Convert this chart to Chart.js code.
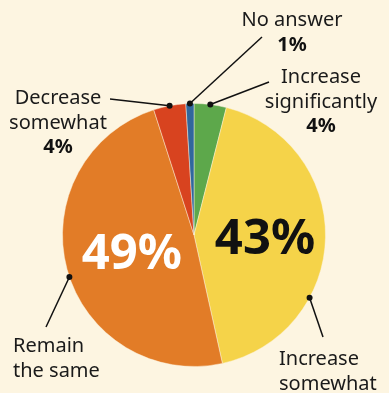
<!DOCTYPE html>
<html>
<head>
<meta charset="utf-8">
<script src="https://cdn.jsdelivr.net/npm/chart.js@4"></script>
<style>
  html, body { margin: 0; padding: 0; background: #fdf5e1; }
  #wrap { width: 389px; height: 393px; position: relative; }
</style>
</head>
<body>
<div id="wrap"><canvas id="chart" width="389" height="393"></canvas></div>
<script>
// données du graphique (sens horaire depuis midi)
const categories = ['Increase significantly', 'Increase somewhat', 'Remain the same', 'Decrease somewhat', 'No answer'];
const shares = [4, 43, 49, 4, 1];
const sliceColors = ['#5da84b', '#f5d349', '#e27c27', '#d8431f', '#30679d'];

// mise en page des étiquettes (lignes de texte, position, point sur l'arc)
const calloutLines = [
  ['Increase', 'significantly'],
  ['Increase', 'somewhat'],
  ['Remain', 'the same'],
  ['Decrease', 'somewhat'],
  ['No answer']
];
const callouts = [
  { x: 321, y: 83, align: 'center', showPct: true, t: 0.5, end: [269, 82] },
  { x: 279, y: 365, align: 'left', showPct: false, t: 0.68, end: [323, 337] },
  { x: 13, y: 352, align: 'left', showPct: false, t: 0.48, end: [46, 327] },
  { x: 58, y: 104, align: 'center', showPct: true, t: 0.5, end: [110, 99] },
  { x: 292, y: 26, align: 'center', showPct: true, t: 0.5, end: [262, 37] }
];
// gros pourcentages dans les parts
const bigLabels = [
  null,
  { color: '#111111', r: 0.54 },
  { color: '#ffffff', r: 0.49 },
  null,
  null
];

const FONT = '"Noto Sans", "Open Sans", sans-serif';

const labelPlugin = {
  id: 'labelPlugin',
  afterDatasetsDraw(chart) {
    const ctx = chart.ctx;
    const meta = chart.getDatasetMeta(0);
    ctx.save();
    meta.data.forEach((arc, i) => {
      const p = arc.getProps(['x', 'y', 'startAngle', 'endAngle', 'outerRadius']);
      const c = callouts[i];
      // ligne de rappel + point
      const a = p.startAngle + c.t * (p.endAngle - p.startAngle);
      const dx = p.x + Math.cos(a) * p.outerRadius;
      const dy = p.y + Math.sin(a) * p.outerRadius;
      ctx.strokeStyle = '#111';
      ctx.lineWidth = 1.5;
      ctx.beginPath();
      ctx.moveTo(dx, dy);
      ctx.lineTo(c.end[0], c.end[1]);
      ctx.stroke();
      ctx.fillStyle = '#111';
      ctx.beginPath();
      ctx.arc(dx, dy, 3, 0, Math.PI * 2);
      ctx.fill();

      // texte
      ctx.textAlign = c.align;
      ctx.textBaseline = 'alphabetic';
      ctx.fillStyle = '#1a1a1a';
      ctx.font = '20px ' + FONT;
      const lines = calloutLines[i];
      lines.forEach((ln, k) => ctx.fillText(ln, c.x, c.y + k * 24.5));
      if (c.showPct) {
        ctx.font = 'bold 20px ' + FONT;
        ctx.fillStyle = '#111';
        ctx.fillText(shares[i] + '%', c.x, c.y + lines.length * 24.5);
      }

      // gros pourcentage
      const b = bigLabels[i];
      if (b) {
        const m = (p.startAngle + p.endAngle) / 2;
        const bx = p.x + Math.cos(m) * p.outerRadius * b.r;
        const by = p.y + Math.sin(m) * p.outerRadius * b.r;
        ctx.font = 'bold 49px ' + FONT;
        ctx.textAlign = 'center';
        ctx.fillStyle = b.color;
        ctx.fillText(shares[i] + '%', bx, by + 17.5);
      }
    });
    ctx.restore();
  }
};

new Chart(document.getElementById('chart').getContext('2d'), {
  type: 'pie',
  data: {
    labels: categories,
    datasets: [{
      data: shares,
      backgroundColor: sliceColors,
      borderColor: 'rgba(253, 245, 225, 0.45)',
      borderWidth: 1
    }]
  },
  options: {
    responsive: false,
    animation: false,
    layout: { padding: { top: 103, bottom: 26, left: 62, right: 63 } },
    plugins: {
      legend: { display: false },
      tooltip: { enabled: false }
    }
  },
  plugins: [labelPlugin]
});
</script>
</body>
</html>
